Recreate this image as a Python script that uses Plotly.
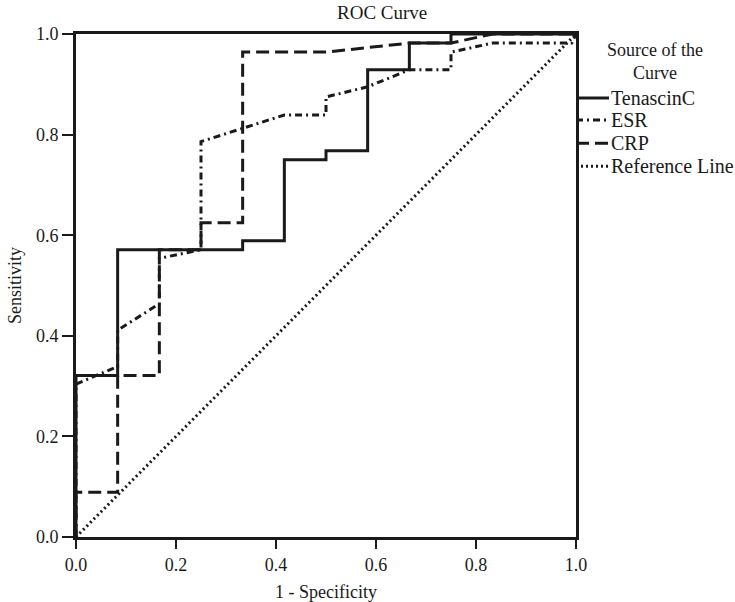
import plotly.graph_objects as go

# ROC curve data (1 - Specificity, Sensitivity)
tenascin_x = [0, 0, 0.0833, 0.0833, 0.3333, 0.3333, 0.4167, 0.4167, 0.5, 0.5, 0.5833, 0.5833, 0.6667, 0.6667, 0.75, 0.75, 1.0]
tenascin_y = [0, 0.321, 0.321, 0.571, 0.571, 0.589, 0.589, 0.75, 0.75, 0.768, 0.768, 0.929, 0.929, 0.982, 0.982, 1.0, 1.0]

esr_x = [0, 0, 0.0833, 0.0833, 0.1667, 0.1667, 0.25, 0.25, 0.4167, 0.5, 0.5, 0.5833, 0.6667, 0.75, 0.75, 0.8333, 0.9917, 1.0]
esr_y = [0, 0.304, 0.339, 0.411, 0.464, 0.554, 0.571, 0.786, 0.839, 0.839, 0.875, 0.895, 0.929, 0.929, 0.964, 0.982, 0.982, 1.0]

crp_x = [0, 0, 0.0833, 0.0833, 0.1667, 0.1667, 0.25, 0.25, 0.3333, 0.3333, 0.5, 0.6667, 0.75, 0.8333, 1.0]
crp_y = [0, 0.089, 0.089, 0.321, 0.321, 0.571, 0.571, 0.625, 0.625, 0.964, 0.964, 0.982, 0.982, 1.0, 1.0]

ref_x = [0, 1]
ref_y = [0, 1]

series_names = ["TenascinC", "ESR", "CRP", "Reference Line"]
dashes = ["solid", "7px,4px,2px,4px", "13px,6px", "2px,3px"]

FONT = "Liberation Serif, Times New Roman, serif"
INK = "#1a1a1a"
fig = go.Figure()
data = [(tenascin_x, tenascin_y), (esr_x, esr_y), (crp_x, crp_y), (ref_x, ref_y)]
for (xs, ys), name, d in zip(data, series_names, dashes):
    fig.add_trace(go.Scatter(x=xs, y=ys, mode="lines", name=name,
                             line=dict(color=INK, width=3, dash=d),
                             showlegend=False))

# manual legend attached to right frame
leg_y = [0.873, 0.829, 0.783, 0.737]
for name, d, yy in zip(series_names, dashes, leg_y):
    fig.add_shape(type="line", xref="paper", yref="paper", x0=1.0, x1=1.066, y0=yy, y1=yy,
                  line=dict(color=INK, width=3, dash=d))
    fig.add_annotation(xref="paper", yref="paper", x=1.066, y=yy, text=name, showarrow=False,
                       xanchor="left", yanchor="middle", font=dict(family=FONT, size=20, color=INK))
fig.add_annotation(xref="paper", yref="paper", x=1.158, y=0.946, text="Source of the<br>Curve", showarrow=False,
                   xanchor="center", yanchor="middle", align="center",
                   font=dict(family=FONT, size=18, color=INK))

fig.add_annotation(xref="paper", yref="paper", x=0.612, y=1.0, yshift=22, text="ROC Curve", showarrow=False,
                   xanchor="center", yanchor="middle", font=dict(family=FONT, size=19, color=INK))

axis_common = dict(range=[0, 1], tickvals=[0, 0.2, 0.4, 0.6, 0.8, 1.0], tickformat=".1f",
                   showgrid=False, zeroline=False, showline=True, mirror=True, automargin=False,
                   linecolor=INK, linewidth=3, ticks="outside", tickwidth=2,
                   tickcolor=INK, tickfont=dict(family=FONT, size=18, color=INK))

fig.update_layout(
    width=735, height=602,
    margin=dict(l=76, r=159, t=34, b=65),
    plot_bgcolor="white", paper_bgcolor="white",
    xaxis=dict(**axis_common, ticklen=9, title=dict(text="1 - Specificity", standoff=20,
               font=dict(family=FONT, size=18, color=INK))),
    yaxis=dict(**axis_common, ticklen=11, title=dict(text="Sensitivity", standoff=10,
               font=dict(family=FONT, size=18, color=INK))),
)

fig.write_html("out.html")
